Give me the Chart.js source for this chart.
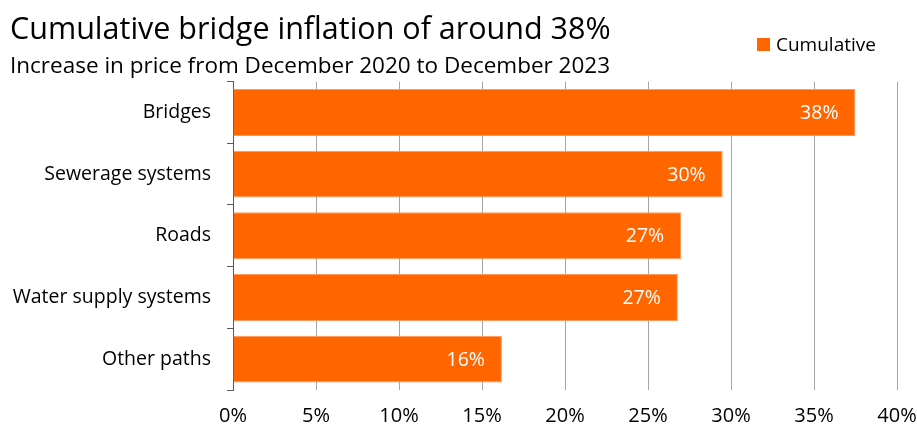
<!DOCTYPE html>
<html>
<head>
<meta charset="utf-8">
<script src="https://cdn.jsdelivr.net/npm/chart.js@4"></script>
<style>
  body { margin: 0; background: #fff; }
  #wrap { position: relative; width: 917px; height: 429px; }
  #legend {
    position: absolute; left: 757px; top: 31px;
    font-family: "Open Sans", sans-serif; font-size: 19px; color: #000;
    display: flex; align-items: center;
  }
  #legend span.box { width: 13px; height: 13px; margin-right: 6px; display: inline-block; }
</style>
</head>
<body>
<div id="wrap">
  <canvas id="bar_chart" width="917" height="429"></canvas>
  <div id="legend"></div>
</div>
<script>
var categories = ["Bridges", "Sewerage systems", "Roads", "Water supply systems", "Other paths"];
var cumulative = [37.5, 29.5, 27.0, 26.8, 16.2];
var xTicks = [0, 5, 10, 15, 20, 25, 30, 35, 40];

var orange = "#ff6600";
var font = "'Open Sans', sans-serif";

// white value labels inside the end of each bar
var barLabels = {
    id: "barLabels",
    afterDatasetsDraw: function(chart) {
        var ctx = chart.ctx;
        var meta = chart.getDatasetMeta(0);
        ctx.save();
        ctx.fillStyle = "#fff";
        ctx.font = "19.5px " + font;
        ctx.textAlign = "right";
        ctx.textBaseline = "middle";
        meta.data.forEach(function(bar, i) {
            var v = chart.data.datasets[0].data[i];
            ctx.fillText(Math.round(v) + "%", bar.x - 17, bar.y + 1);
        });
        ctx.restore();
    }
};

var ctx = document.getElementById("bar_chart");
var chart = new Chart(ctx, {
    type: "bar",
    data: {
        labels: categories,
        datasets: [{
            label: "Cumulative",
            data: cumulative,
            backgroundColor: orange,
            borderColor: "#ff9a5c",
            borderWidth: 1,
            barPercentage: 0.76,
            categoryPercentage: 1
        }]
    },
    options: {
        indexAxis: "y",
        responsive: false,
        animation: false,
        layout: {
            padding: { top: 0, left: 10, right: 20, bottom: 0 }
        },
        plugins: {
            legend: { display: false },
            tooltip: { enabled: false },
            title: {
                display: true,
                text: "Cumulative bridge inflation of around 38%",
                align: "start",
                color: "#000",
                font: { family: font, size: 30.5, weight: "normal", lineHeight: 1.2 },
                padding: { top: 12, bottom: 0 }
            },
            subtitle: {
                display: true,
                text: "Increase in price from December 2020 to December 2023",
                align: "start",
                color: "#000",
                font: { family: font, size: 22.5, weight: "normal", lineHeight: 1.2 },
                padding: { top: 4, bottom: 2 }
            }
        },
        scales: {
            x: {
                min: 0,
                max: 40,
                afterBuildTicks: function(scale) {
                    scale.ticks = xTicks.map(function(v) { return { value: v }; });
                },
                afterFit: function(scale) {
                    scale.height = 39;
                    scale.paddingLeft = 0;
                    scale.paddingRight = 0;
                },
                border: { display: false },
                grid: { color: "#a6a6a6", drawTicks: false },
                ticks: {
                    color: "#000",
                    padding: 14,
                    font: { family: font, size: 20 },
                    callback: function(v) { return v + "%"; }
                }
            },
            y: {
                afterFit: function(scale) { scale.width = 223; },
                border: { display: true, color: "#595959" },
                grid: { drawOnChartArea: false, drawTicks: true, tickLength: 6, color: "#595959" },
                ticks: {
                    color: "#000",
                    padding: 16,
                    font: { family: font, size: 19.5 }
                }
            }
        }
    },
    plugins: [barLabels]
});

// legend entry built from the dataset
var ds = chart.data.datasets[0];
document.getElementById("legend").innerHTML =
    '<span class="box" style="background:' + ds.backgroundColor + '"></span>' + ds.label;
</script>
</body>
</html>
